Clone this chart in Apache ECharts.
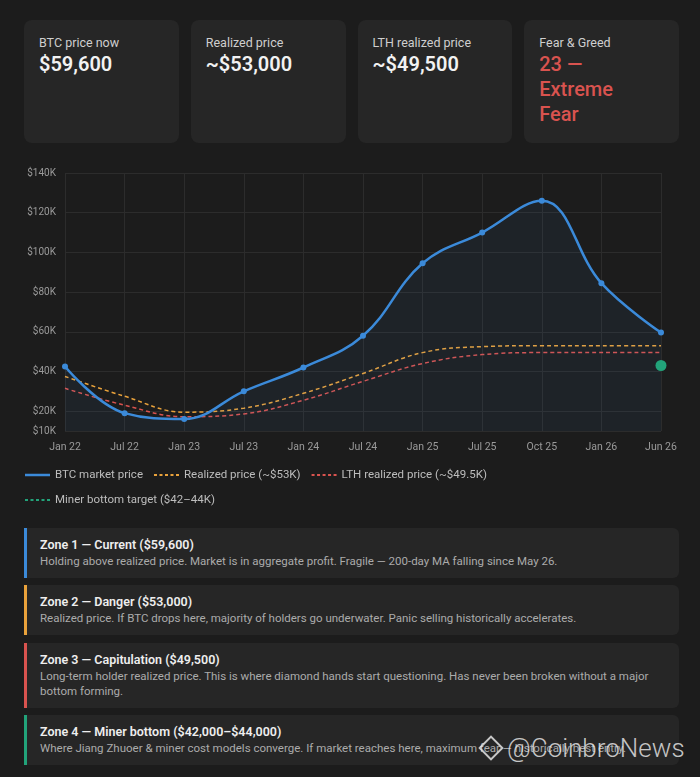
<!DOCTYPE html>
<html>
<head>
<meta charset="utf-8">
<script src="https://cdn.jsdelivr.net/npm/echarts@6/dist/echarts.min.js"></script>
<style>
	html, body { margin: 0; padding: 0; background: #1c1c1c; }
	body { width: 700px; height: 777px; position: relative; overflow: hidden; font-family: Roboto, "Noto Sans", sans-serif; }
	.cards { position: absolute; left: 24px; top: 20px; width: 655px; display: flex; gap: 12px; }
	.card { flex: 1; height: 123px; box-sizing: border-box; background: #262626; border-radius: 8px; padding: 14px 15px 0 15px; }
	.card .label { font-size: 12.5px; line-height: 17px; color: #cfcfcf; }
	.card .value { font-size: 20px; line-height: 25px; font-weight: 600; color: #f2f2f2; margin-top: 1px; }
	.card .value.red { color: #d9534f; font-weight: 500; }
	.chart { position: absolute; left: 0; top: 160px; width: 700px; height: 360px; }
	.zone { position: absolute; left: 24px; width: 655px; box-sizing: border-box; background: #262626; border-left: 3px solid; border-radius: 0 6px 6px 0; padding: 8px 14px 8px 13px; }
	.zone .title { font-size: 12.5px; line-height: 18px; font-weight: 600; color: #eeeeee; }
	.zone .desc { font-size: 11.5px; line-height: 14.5px; color: #ababab; }
	.mark { position: absolute; left: 478px; top: 733px; display: flex; align-items: center; color: rgba(235,235,235,0.82); font-size: 26px; font-weight: 300; }
	.mark .logo { width: 14px; height: 14px; border: 2px solid rgba(235,235,235,0.82); transform: rotate(45deg); margin: 0 7px 0 4px; }
</style>
</head>
<body>
<div class="cards">
	<div class="card"><div class="label">BTC price now</div><div class="value">$59,600</div></div>
	<div class="card"><div class="label">Realized price</div><div class="value">~$53,000</div></div>
	<div class="card"><div class="label">LTH realized price</div><div class="value">~$49,500</div></div>
	<div class="card"><div class="label">Fear &amp; Greed</div><div class="value red">23 —<br>Extreme<br>Fear</div></div>
</div>

<div class="chart" id="chart"></div>

<div class="zone" style="top:528px;height:50px;border-color:#3b8ad9;">
	<div class="title">Zone 1 — Current ($59,600)</div>
	<div class="desc">Holding above realized price. Market is in aggregate profit. Fragile — 200-day MA falling since May 26.</div>
</div>
<div class="zone" style="top:585px;height:50px;border-color:#e9a23b;">
	<div class="title">Zone 2 — Danger ($53,000)</div>
	<div class="desc">Realized price. If BTC drops here, majority of holders go underwater. Panic selling historically accelerates.</div>
</div>
<div class="zone" style="top:643px;height:65px;border-color:#d9534f;">
	<div class="title">Zone 3 — Capitulation ($49,500)</div>
	<div class="desc">Long-term holder realized price. This is where diamond hands start questioning. Has never been broken without a major bottom forming.</div>
</div>
<div class="zone" style="top:715px;height:50px;border-color:#22a37a;">
	<div class="title">Zone 4 — Miner bottom ($42,000–$44,000)</div>
	<div class="desc">Where Jiang Zhuoer &amp; miner cost models converge. If market reaches here, maximum fear — historically best entry.</div>
</div>
<div class="mark"><div class="logo"></div>@CoinbroNews</div>

<script>
var months = ["Jan 22", "Jul 22", "Jan 23", "Jul 23", "Jan 24", "Jul 24", "Jan 25", "Jul 25", "Oct 25", "Jan 26", "Jun 26"];
var btcPrice = [42500, 19000, 16000, 30000, 42000, 58000, 94500, 110000, 126000, 84500, 59600];
var realizedPrice = [37500, 27500, 19500, 21500, 29000, 39000, 49500, 52500, 53000, 53000, 53000];
var lthRealized = [31500, 23000, 17200, 18600, 25500, 35000, 44000, 48500, 49500, 49500, 49500];
var minerBottom = [null, null, null, null, null, null, null, null, null, null, 43000];
var yTicks = [10000, 20000, 40000, 60000, 80000, 100000, 120000, 140000];

(function() {
	var myChart = echarts.init(document.getElementById("chart"));
	var dashIcon = "path://M0,0h3v2h-3zM5.5,0h3v2h-3zM11,0h3v2h-3zM16.5,0h3v2h-3zM22,0h3v2h-3z";
	var gridColor = "#2c2c2c";

	var option = {
		backgroundColor: "transparent",
		animation: false,
		grid: { left: 65, right: 39, top: 13, bottom: 89 },
		legend: {
			left: 20,
			top: 303,
			width: 480,
			itemWidth: 25,
			itemHeight: 2.5,
			itemGap: 11,
			textStyle: { color: "#bdbdbd", fontSize: 11.5, fontFamily: "Roboto", lineHeight: 14 },
			data: [
				{ name: "BTC market price", icon: "rect" },
				{ name: "Realized price (~$53K)", icon: dashIcon },
				{ name: "LTH realized price (~$49.5K)", icon: dashIcon },
				{ name: "Miner bottom target ($42–44K)", icon: dashIcon }
			]
		},
		xAxis: {
			type: "category",
			data: months,
			boundaryGap: false,
			axisLine: { show: false },
			axisTick: { show: false },
			axisLabel: { color: "#9a9a9a", fontSize: 10.5, margin: 11, fontFamily: "Roboto" },
			splitLine: { show: true, lineStyle: { color: gridColor, width: 1 } }
		},
		yAxis: {
			type: "value",
			min: 10000,
			max: 140000,
			axisLine: { show: false },
			axisTick: { show: false, customValues: yTicks },
			axisLabel: {
				customValues: yTicks,
				color: "#9a9a9a",
				fontSize: 10,
				margin: 9,
				fontFamily: "Roboto",
				formatter: function(v) { return "$" + v / 1000 + "K"; }
			},
			splitLine: { show: true, lineStyle: { color: gridColor, width: 1 } }
		},
		series: [
			{
				name: "BTC market price",
				type: "line",
				data: btcPrice,
				smooth: 0.4,
				color: "#3b8ad9",
				symbol: "circle",
				symbolSize: 6,
				lineStyle: { width: 2.5, color: "#3b8ad9" },
				areaStyle: { color: "rgba(59,138,217,0.09)" },
				z: 5
			},
			{
				name: "Realized price (~$53K)",
				type: "line",
				data: realizedPrice,
				smooth: 0.4,
				color: "#e9a23b",
				showSymbol: false,
				lineStyle: { width: 1.5, type: [4, 3], color: "#e9a23b" },
				z: 4
			},
			{
				name: "LTH realized price (~$49.5K)",
				type: "line",
				data: lthRealized,
				smooth: 0.4,
				color: "#d9534f",
				showSymbol: false,
				lineStyle: { width: 1.5, type: [4, 3], color: "#d9534f" },
				z: 3
			},
			{
				name: "Miner bottom target ($42–44K)",
				type: "line",
				data: minerBottom,
				color: "#22a37a",
				symbol: "circle",
				symbolSize: 11,
				lineStyle: { width: 1.5, type: [4, 3], color: "#22a37a" },
				z: 6
			}
		]
	};

	myChart.setOption(option);

	window.addEventListener("resize", function() {
		myChart.resize();
	});
})();
</script>
</body>
</html>
